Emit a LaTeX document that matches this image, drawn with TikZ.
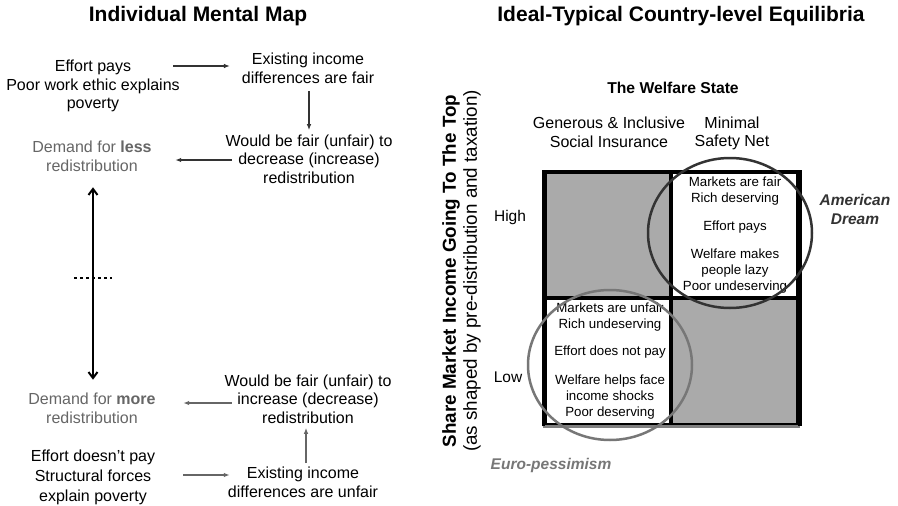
\documentclass[tikz,border=0pt]{standalone}
\usepackage{fontspec}
\setmainfont{Liberation Sans}
\usetikzlibrary{arrows.meta,calc}
\definecolor{dg}{HTML}{333333}
\definecolor{mg}{HTML}{666666}
\definecolor{lg}{HTML}{777777}
\definecolor{cellgray}{HTML}{AAAAAA}
\begin{document}
\begin{tikzpicture}[x=1pt,y=-1pt,
  txt/.style={align=center, inner sep=0pt, font=\fontsize{16}{18.7}\selectfont},
  ttl/.style={inner sep=0pt, font=\fontsize{21}{24}\selectfont\bfseries},
  celltxt/.style={align=center, inner sep=0pt, font=\fontsize{13.3}{16}\selectfont},
  lbl/.style={inner sep=0pt, font=\fontsize{15.5}{18}\selectfont},
  cellbox/.style={draw=black, line width=3.5pt, minimum width=127pt, minimum height=126pt, inner sep=0pt},
  arrT/.style={draw=dg, line width=1.3pt, -{Latex[length=6pt,width=4.5pt]}},
  arrB/.style={draw=mg, line width=1.3pt, -{Latex[length=6pt,width=4.5pt]}},
  dbl/.style={draw=black, line width=2pt, {Straight Barb[length=6pt,width=9pt]}-{Straight Barb[length=6pt,width=9pt]}},
]
\useasboundingbox (0,0) rectangle (898,506);
\fill[white] (0,0) rectangle (898,506);

% titles
\node[ttl] (tl) at (198,16) {Individual Mental Map};
\node[ttl] (tr) at (681,16) {Ideal-Typical Country-level Equilibria};

% left: mental map
\node[txt] (e1) at (93,86) {Effort pays\\Poor work ethic explains\\poverty};
\node[txt] (ex1) at (308,68) {Existing income\\differences are fair};
\node[txt] (w1) at (309,159) {Would be fair (unfair) to\\decrease (increase)\\redistribution};
\node[txt, text=mg] (dl) at (92,156.5) {Demand for \textbf{less}\\redistribution};
\node[txt, text=mg] (dm) at (92,408) {Demand for \textbf{more}\\redistribution};
\node[txt] (w2) at (308,399) {Would be fair (unfair) to\\increase (decrease)\\redistribution};
\node[txt] (ex2) at (303,482.5) {Existing income\\differences are unfair};
\node[txt, font=\fontsize{16}{20}\selectfont] (e2) at (93,477) {Effort doesn’t pay\\Structural forces\\explain poverty};

\draw[arrT, shorten <=-6.5pt, shorten >=11.75pt] (e1.east |- 0,66) -- (ex1.west |- 0,66);
\draw[arrT, shorten <=8pt, shorten >=4pt] (ex1.south -| 309,0) -- (w1.north -| 309,0);
\draw[arrT, shorten <=-6.5pt, shorten >=23.4pt] (w1.west |- 0,160) -- (dl.east |- 0,160);
\draw[arrB, shorten <=-7.5pt, shorten >=27.4pt] (w2.west |- 0,403) -- (dm.east |- 0,403);
\draw[arrB, shorten <=4pt, shorten >=4pt] (ex2.north -| 306,0) -- (w2.south -| 306,0);
\draw[arrB, shorten <=28pt, shorten >=-2pt] (e2.east |- 0,475) -- (ex2.west |- 0,475);
\draw[dbl, shorten <=15.4pt, shorten >=12.9pt] (dl.south -| 93,0) -- (dm.north -| 93,0);
\draw[line width=2pt, dash pattern=on 3pt off 3pt] (74,278) -- (112,278);

% right: equilibria
\node[inner sep=0pt, font=\fontsize{15.7}{18}\selectfont\bfseries] (ws) at (673,88) {The Welfare State};
\node[txt] (gen) at (609,132.5) {Generous \& Inclusive\\Social Insurance};
\node[txt] (mini) at (732,133.5) {Minimal\\Safety Net};

\node[cellbox, fill=cellgray] (c11) at (608.5,235) {};
\node[cellbox, fill=white] (c12) at (734.5,235) {};
\node[cellbox, fill=white] (c21) at (608.5,361.5) {};
\node[cellbox, fill=cellgray] (c22) at (734.5,361.5) {};
\draw[draw=black!50, line width=3pt] (c21.south west) -- (c22.south east);
\draw[line width=3.5pt] (c21.south west) -- (c11.north west);
\draw[line width=3.5pt] (c22.south east) -- (c12.north east);

\node[celltxt] (t12) at (735,235.5) {Markets are fair\\Rich deserving\\[12pt]Effort pays\\[12pt]Welfare makes\\people lazy\\Poor undeserving};
\node[celltxt] (t21) at (610,361.5) {Markets are unfair\\Rich undeserving\\[11pt]Effort does not pay\\[13pt]Welfare helps face\\income shocks\\Poor deserving};

\draw[draw=dg, line width=2.5pt] (730,233) ellipse [x radius=82pt, y radius=75pt];
\draw[draw=lg, line width=2.5pt] (610,365) ellipse [x radius=82pt, y radius=75pt];

\node[lbl] (high) at (510,217) {High};
\node[lbl] (low) at (508,377) {Low};
\node[inner sep=0pt, align=center, text=dg, font=\fontsize{15.5}{19}\selectfont\bfseries\itshape] (am) at (855,209) {American\\Dream};
\node[inner sep=0pt, text=lg, font=\fontsize{15.5}{18}\selectfont\bfseries\itshape] (euro) at (551,465) {Euro-pessimism};

\node[inner sep=0pt, rotate=90, font=\fontsize{18.8}{21}\selectfont\bfseries] (ylab) at (451,271) {Share Market Income Going To The Top};
\node[inner sep=0pt, rotate=90, font=\fontsize{18.8}{21}\selectfont] (ylab2) at (472,271) {(as shaped by pre-distribution and taxation)};
\end{tikzpicture}
\end{document}
